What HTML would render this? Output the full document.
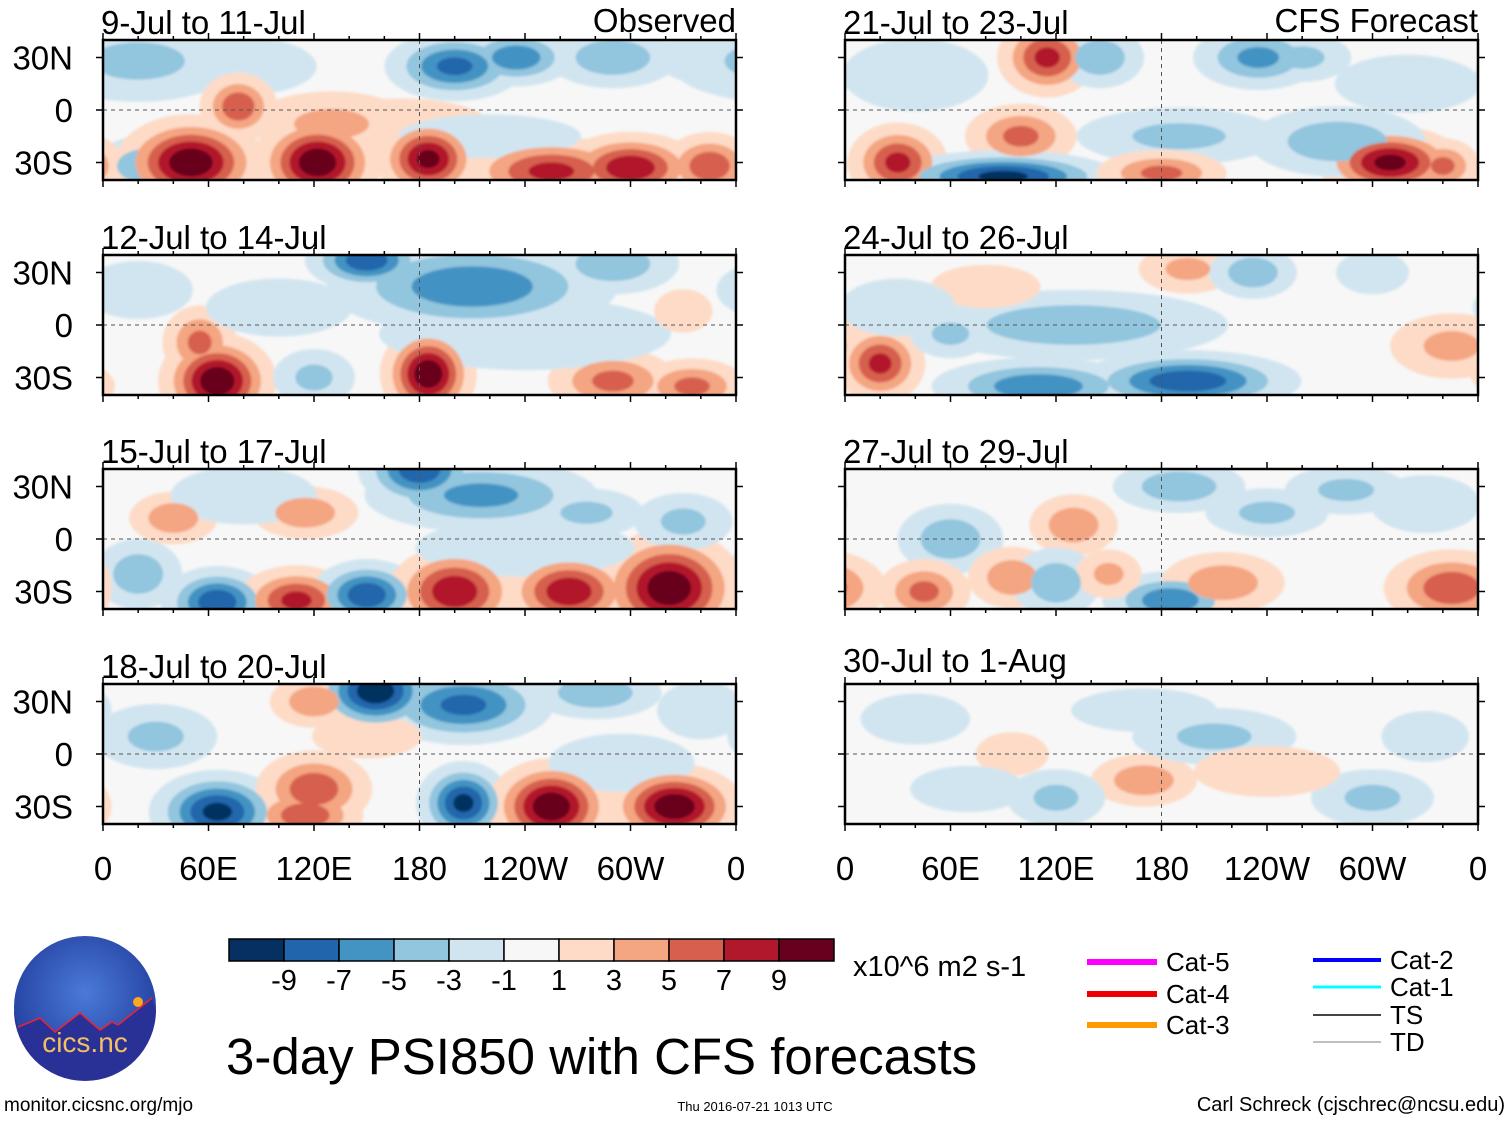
<!DOCTYPE html>
<html><head><meta charset="utf-8"><style>
body{margin:0;background:#fff;}
svg text{font-family:"Liberation Sans",sans-serif;}
</style></head><body>
<svg id="c" width="1510" height="1121" xmlns="http://www.w3.org/2000/svg">
<defs>
<filter id="bl" x="-20%" y="-20%" width="140%" height="140%"><feGaussianBlur stdDeviation="1.2"/></filter>
</defs>
</svg>
<script>
// Panel titles
const titles=["9-Jul to 11-Jul","12-Jul to 14-Jul","15-Jul to 17-Jul","18-Jul to 20-Jul","21-Jul to 23-Jul","24-Jul to 26-Jul","27-Jul to 29-Jul","30-Jul to 1-Aug"];
// anomaly blobs per panel: [lon, lat, amplitude, lonSpread, latSpread]
const p1=[[20,28,-4,25,10],[80,25,-3,20,8],[200,25,-8,14,7],[235,30,-7,12,6],[290,30,-5,15,7],[340,30,-3,12,7],[25,-32,-5,12,7],[50,-30,11,14,9],[122,-30,11,12,9],[185,-28,10,10,8],[255,-35,8,18,7],[300,-33,9,14,7],[345,-32,7,10,7],[77,2,7,8,7],[170,-10,3,25,8],[130,-8,4,20,8],[220,-15,-3,25,6]];
const p2=[[150,37,-9,12,6],[210,22,-7,30,10],[290,35,-5,15,7],[20,20,-3,15,8],[65,-32,11,11,9],[185,-28,11,9,9],[55,-10,6,8,8],[290,-32,6,14,7],[335,-35,6,12,6],[120,-30,-4,10,7],[240,-5,-3,40,10],[330,8,3,8,6],[100,10,-3,20,8]];
const p3=[[180,40,-9,12,8],[215,25,-6,25,8],[40,12,5,10,6],[115,15,5,12,6],[20,-20,-5,10,8],[65,-36,-9,11,7],[110,-35,8,12,7],[150,-32,-9,11,7],[200,-30,9,13,9],[265,-30,9,13,8],[322,-28,11,14,11],[330,10,-4,12,7],[275,15,-4,14,6],[240,-5,-3,30,8],[80,25,-3,20,8]];
const p4=[[155,36,-11,12,8],[205,28,-8,18,8],[280,35,-5,15,6],[120,30,5,10,6],[65,-33,-10,13,8],[120,-20,7,12,8],[115,-35,7,12,6],[205,-28,-10,9,8],[255,-30,11,12,9],[325,-30,11,13,8],[150,10,3,15,6],[30,10,-4,15,8],[295,-5,-3,20,8],[340,25,-3,12,8]];
const p5=[[115,30,8,10,8],[145,30,-5,10,7],[235,30,-6,14,7],[100,-15,6,12,7],[310,-30,10,14,7],[30,-30,8,10,8],[90,-38,-10,22,5],[280,-18,-5,20,8],[340,-32,6,8,6],[190,-15,-4,25,7],[180,-36,6,14,5],[260,30,-4,12,6],[40,20,-3,20,10],[320,15,-3,20,8]];
const p6=[[20,-22,8,9,8],[110,-35,-7,22,6],[195,-32,-9,22,6],[130,0,-5,35,8],[80,22,3,15,6],[195,32,4,12,6],[232,30,-5,10,6],[345,-12,4,15,8],[60,-5,-4,10,6],[300,30,-3,10,6],[30,10,-2,20,10]];
const p7=[[60,0,-5,12,8],[130,8,5,10,7],[190,30,-5,15,6],[45,-30,6,10,7],[95,-22,5,10,7],[120,-25,-5,10,8],[185,-35,-7,14,6],[215,-25,5,14,7],[345,-28,7,14,8],[240,15,-4,15,6],[150,-20,4,8,6],[285,28,-4,15,6],[330,20,-3,15,8]];
const p8=[[170,-15,5,12,6],[210,10,-4,20,7],[120,-25,-4,12,7],[300,-25,-4,15,7],[95,0,3,10,6],[40,20,-3,15,7],[240,-10,3,20,7],[330,10,-3,12,7],[170,25,-3,20,6],[70,-20,-2,20,8]];
const panels=[p1,p2,p3,p4,p5,p6,p7,p8];
const levels=[1,3,5,7,9];
const posCols=["#fddbc7","#f4a582","#d6604d","#b2182b","#67001f"];
const negCols=["#d1e5f0","#92c5de","#4393c3","#2166ac","#053061"];
const cbLabels=["-9","-7","-5","-3","-1","1","3","5","7","9"];
const cbCols=["#053061","#2166ac","#4393c3","#92c5de","#d1e5f0","#f7f7f7","#fddbc7","#f4a582","#d6604d","#b2182b","#67001f"];
const lonTicks=["0","60E","120E","180","120W","60W","0"];

const S=document.getElementById('c');const NS="http://www.w3.org/2000/svg";
function mk(t,a,p){const e=document.createElementNS(NS,t);for(const k in a)e.setAttribute(k,a[k]);(p||S).appendChild(e);return e;}
const X0=[103,845],W=633,Y0=[40,255,469,684],H=140;
function px(c,lon){return X0[c]+lon/360*W;}
function py(r,lat){return Y0[r]+(40-lat)/80*H;}

panels.forEach((blobs,i)=>{
  const c=i<4?0:1,r=i%4;
  const g=mk('g',{});
  
  
  mk('clipPath',{id:'cp'+i},g);
  mk('rect',{x:X0[c],y:Y0[r],width:W,height:H},document.getElementById('cp'+i));
  mk('rect',{x:X0[c],y:Y0[r],width:W,height:H,fill:'#f7f7f7'},g);
  const f=mk('g',{'clip-path':'url(#cp'+i+')'},g);
  const inner=mk('g',{filter:'url(#bl)'},f);
  levels.forEach((lv,li)=>{
    blobs.forEach(b=>{
      const A=Math.abs(b[2]);if(A<=lv)return;
      const k=Math.sqrt(2*Math.log(A/lv))*1.4;
      [0,360,-360].forEach(off=>{
        const e=mk('ellipse',{cx:px(c,b[0]+off),cy:py(r,b[1]),rx:b[3]*k/360*W,ry:b[4]*k/80*H,fill:b[2]>0?posCols[li]:negCols[li]},inner);
        
        
      });
    });
  });
  mk('line',{x1:X0[c],x2:X0[c]+W,y1:py(r,0),y2:py(r,0),stroke:'#555','stroke-dasharray':'4,4','stroke-width':1},g);
  mk('line',{x1:px(c,180),x2:px(c,180),y1:Y0[r],y2:Y0[r]+H,stroke:'#555','stroke-dasharray':'4,4','stroke-width':1},g);
  mk('rect',{x:X0[c],y:Y0[r],width:W,height:H,fill:'none',stroke:'#000','stroke-width':2.5},g);
  for(let l=0;l<=360;l+=20){const L=l%60==0?7:4;
    mk('line',{x1:px(c,l),x2:px(c,l),y1:Y0[r]+H,y2:Y0[r]+H+L,stroke:'#000','stroke-width':1.5},g);
    mk('line',{x1:px(c,l),x2:px(c,l),y1:Y0[r],y2:Y0[r]-L,stroke:'#000','stroke-width':1.5},g);}
  [30,0,-30].forEach(la=>{mk('line',{x1:X0[c]-7,x2:X0[c],y1:py(r,la),y2:py(r,la),stroke:'#000','stroke-width':1.5},g);
    mk('line',{x1:X0[c]+W,x2:X0[c]+W+7,y1:py(r,la),y2:py(r,la),stroke:'#000','stroke-width':1.5},g);});
  const t=mk('text',{x:X0[c]-2,y:Y0[r]-6-(i==7?6:0),'font-size':33},g);t.textContent=titles[i];
  
  if(c==0){["30N","0","30S"].forEach((s,j)=>{const tt=mk('text',{x:73,y:py(r,[30,0,-30][j])+12,'font-size':33,'text-anchor':'end'},g);tt.textContent=s;
    });}
});
[["Observed",736],["CFS Forecast",1478]].forEach(a=>{const t=mk('text',{x:a[1],y:32,'font-size':33,'text-anchor':'end'});t.textContent=a[0];
  });
[0,1].forEach(c=>lonTicks.forEach((s,j)=>{const t=mk('text',{x:px(c,j*60),y:880,'font-size':33,'text-anchor':'middle'});t.textContent=s;
  }));
// colorbar
cbCols.forEach((col,j)=>{const r=mk('rect',{x:229+j*55,y:939,width:55,height:22,fill:col,stroke:'#000','stroke-width':1.5});
  });
cbLabels.forEach((s,j)=>{const t=mk('text',{x:229+(j+1)*55,y:990,'font-size':29,'text-anchor':'middle'});t.textContent=s;
  });
</script>
<svg width="1510" height="1121" style="position:absolute;left:0;top:0" xmlns="http://www.w3.org/2000/svg">
<g><text x="853" y="976" font-size="29" font-family="Liberation Sans,sans-serif">x10^6 m2 s-1</text></g>
<g><text x="226" y="1074" font-size="51" font-family="Liberation Sans,sans-serif">3-day PSI850 with CFS forecasts</text></g>
<g>
<defs><radialGradient id="lg2" cx="50%" cy="40%" r="60%"><stop offset="0" stop-color="#4a7ad8"/><stop offset="1" stop-color="#213c9c"/></radialGradient></defs>
<circle cx="85" cy="1007" r="71" fill="url(#lg2)"/>
<path d="M18,1027 L40,1018 L55,1032 L80,1013 L100,1030 L112,1022 L118,1025 L152,998 L156,1010 A71,71 0 0 1 14,1010 Z" fill="#2a3196"/>
<path d="M18,1027 L40,1018 L55,1032 L80,1013 L100,1030 L112,1022 L118,1025 L152,998" fill="none" stroke="#e23" stroke-width="1.5"/>
<circle cx="138" cy="1002" r="5" fill="#f9a825"/>
<text x="85" y="1052" font-size="28" fill="#f2c060" text-anchor="middle" font-family="Liberation Sans,sans-serif">cics.nc</text>
</g>
<text x="4" y="1111" font-size="19" font-family="Liberation Sans,sans-serif">monitor.cicsnc.org/mjo</text>
<text x="755" y="1111" font-size="13" text-anchor="middle" font-family="Liberation Sans,sans-serif">Thu 2016-07-21 1013 UTC</text>
<text x="1505" y="1111" font-size="20" text-anchor="end" font-family="Liberation Sans,sans-serif">Carl Schreck (cjschrec@ncsu.edu)</text>
<g font-family="Liberation Sans,sans-serif" font-size="26">
<line x1="1087" x2="1157" y1="962" y2="962" stroke="#f0f" stroke-width="6"/><text x="1166" y="971">Cat-5</text>
<line x1="1087" x2="1157" y1="994" y2="994" stroke="#e00" stroke-width="6"/><text x="1166" y="1003">Cat-4</text>
<line x1="1087" x2="1157" y1="1025" y2="1025" stroke="#f90" stroke-width="6"/><text x="1166" y="1034">Cat-3</text>
<line x1="1313" x2="1381" y1="960" y2="960" stroke="#00f" stroke-width="4"/><text x="1390" y="969">Cat-2</text>
<line x1="1313" x2="1381" y1="987" y2="987" stroke="#0ff" stroke-width="3"/><text x="1390" y="996">Cat-1</text>
<line x1="1313" x2="1381" y1="1015" y2="1015" stroke="#444" stroke-width="2"/><text x="1390" y="1024">TS</text>
<line x1="1313" x2="1381" y1="1042" y2="1042" stroke="#aaa" stroke-width="1.5"/><text x="1390" y="1051">TD</text>
</g>
</svg>
</body></html>
